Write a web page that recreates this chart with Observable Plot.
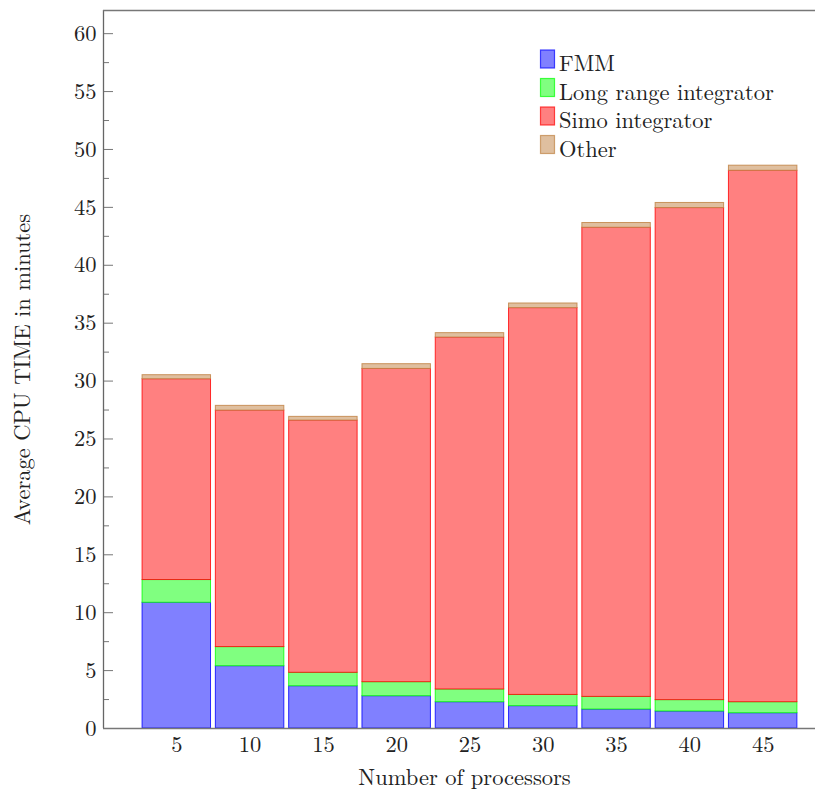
<!DOCTYPE html>
<html>
<head>
<meta charset="utf-8">
<script src="https://cdn.jsdelivr.net/npm/d3@7"></script>
<script src="https://cdn.jsdelivr.net/npm/@observablehq/plot@0.6"></script>
<style>
  body { margin: 0; background: #fff; }
</style>
</head>
<body>
<div id="wrap"></div>
<script>
const processors = [5, 10, 15, 20, 25, 30, 35, 40, 45];
const fmm       = [10.86, 5.38, 3.65, 2.79, 2.27, 1.93, 1.64, 1.47, 1.32];
const longRange = [1.96, 1.65, 1.16, 1.21, 1.10, 0.97, 1.09, 0.98, 0.95];
const simo      = [17.34, 20.42, 21.78, 27.05, 30.39, 33.40, 40.51, 42.49, 45.89];
const other     = [0.35, 0.41, 0.32, 0.41, 0.38, 0.40, 0.41, 0.44, 0.44];
const seriesNames = ["FMM", "Long range integrator", "Simo integrator", "Other"];
const seriesValues = [fmm, longRange, simo, other];
const fills   = ["#8080ff", "#80ff80", "#ff8080", "#dfbf9f"];
const strokes = ["#0000ff", "#00ff00", "#ff0000", "#bf8040"];
const yTicks = [0, 5, 10, 15, 20, 25, 30, 35, 40, 45, 50, 55, 60];
const yMinorTicks = [2.5, 7.5, 12.5, 17.5, 22.5, 27.5, 32.5, 37.5, 42.5, 47.5, 52.5, 57.5];
const xLabel = "Number of processors";
const yLabel = "Average CPU TIME in minutes";

const halfWidth = 2.335;
const data = [];
seriesNames.forEach((s, si) => {
  processors.forEach((p, i) => {
    data.push({series: s, p, value: seriesValues[si][i]});
  });
});

const W = 815, H = 791, ML = 103, MR = 0, MT = 10, MB = 63;
const plotW = W - ML - MR;
const FONT = "'Latin Modern Roman', 'Liberation Serif', serif";
const FS = 22.5;

const chart = Plot.plot({
  width: W, height: H,
  marginLeft: ML, marginRight: MR, marginTop: MT, marginBottom: MB,
  style: {fontFamily: FONT, fontSize: FS + "px", color: "#222", background: "#fff"},
  x: {domain: [0, 48.57], label: null},
  y: {domain: [0, 62], label: null},
  color: {domain: seriesNames, range: fills},
  marks: [
    Plot.rectY(data, {
      x1: d => d.p - halfWidth, x2: d => d.p + halfWidth, y: "value",
      z: "series", fill: "series",
      stroke: d => strokes[seriesNames.indexOf(d.series)],
      strokeWidth: 1, strokeOpacity: 0.8
    }),
    Plot.tickY(yTicks, {y: d => d, stroke: "#777", strokeWidth: 1, insetRight: plotW - 10}),
    Plot.tickY(yMinorTicks, {y: d => d, stroke: "#777", strokeWidth: 1, insetRight: plotW - 6}),
    Plot.ruleX([0], {stroke: "#666", strokeWidth: 1.3}),
    Plot.ruleY([0, 62], {stroke: "#777", strokeWidth: 1.3}),
    Plot.axisY({ticks: yTicks, tickSize: 0, tickPadding: 7, label: null, fontSize: FS}),
    Plot.axisX({ticks: processors, tickSize: 0, tickPadding: 8, label: null, fontSize: FS}),
    Plot.text([yLabel], {frameAnchor: "left", textAnchor: "middle", lineAnchor: "middle", dx: -81, rotate: -90, fontSize: FS, text: d => d}),
    Plot.text([xLabel], {frameAnchor: "bottom", textAnchor: "middle", lineAnchor: "middle", dy: 49, dx: 5, fontSize: FS, text: d => d})
  ]
});

// legend inside the plot area
const svg = d3.select(chart.tagName.toLowerCase() === "svg" ? chart : chart.querySelector("svg"));
const lg = svg.append("g").attr("class", "legend").attr("text-anchor", "start");
seriesNames.forEach((s, i) => {
  const y0 = 50 + i * 28.5;
  lg.append("rect").attr("x", 540.5).attr("y", y0).attr("width", 14).attr("height", 18)
    .attr("fill", fills[i]).attr("stroke", strokes[i]).attr("stroke-width", 1.2).attr("stroke-opacity", 0.7);
  lg.append("text").attr("x", 559).attr("y", y0 + 21).attr("font-size", FS).attr("fill", "#222")
    .style("text-anchor", "start").text(s);
});

document.getElementById("wrap").appendChild(chart);
chart.querySelectorAll("text, tspan").forEach(t => t.style.setProperty("font-family", FONT, "important"));
</script>
</body>
</html>
